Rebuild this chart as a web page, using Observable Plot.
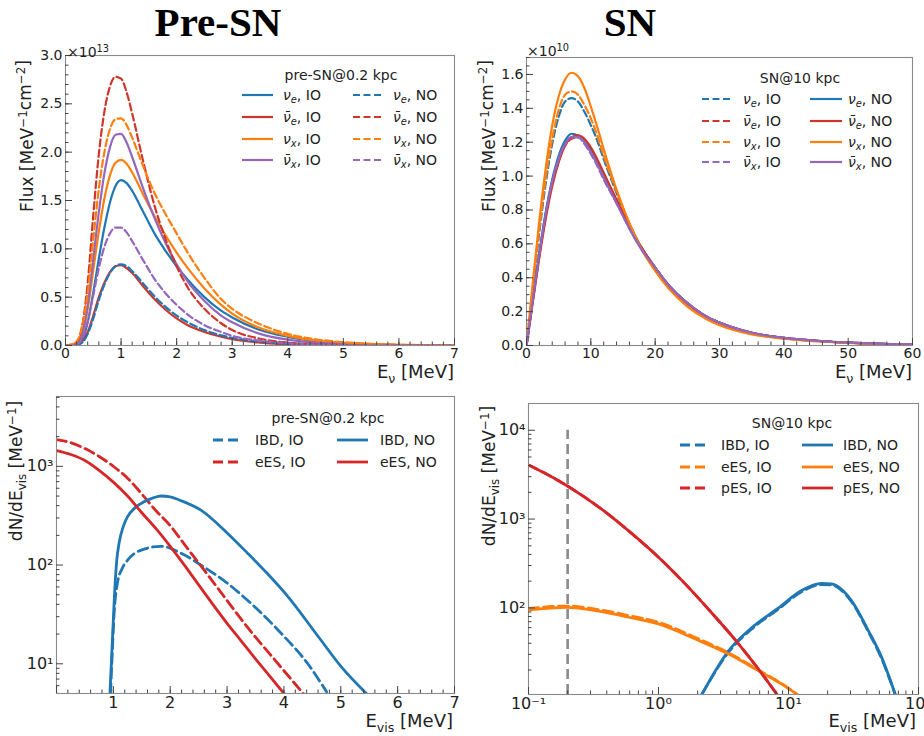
<!DOCTYPE html>
<html><head><meta charset="utf-8">
<script src="https://cdn.jsdelivr.net/npm/d3@7"></script>
<script src="https://cdn.jsdelivr.net/npm/@observablehq/plot@0.6"></script>
<style>
body{margin:0;background:#fff;}
#wrap{position:relative;width:924px;height:736px;overflow:hidden;background:#fff;font-family:"DejaVu Sans",sans-serif;}
#wrap svg{position:absolute;}
</style></head><body><div id="wrap"></div>
<script>
// ---------- Panel A: pre-SN flux (x10^13 MeV^-1 cm^-2) ----------
const preE = [0, 0.1, 0.2, 0.3, 0.4, 0.5, 0.6, 0.7, 0.8, 0.9, 1.0, 1.1, 1.2, 1.4, 1.6, 1.8, 2.0, 2.2, 2.5, 2.8, 3.0, 3.5, 4.0, 4.5, 5.0, 5.5, 6.0, 7.0];
const pre_nue_IO     = [0,0,0.01,0.06,0.24,0.55,0.90,1.22,1.48,1.65,1.71,1.68,1.60,1.38,1.16,0.98,0.82,0.68,0.50,0.36,0.29,0.16,0.09,0.045,0.022,0.011,0.005,0.001];
const pre_nuebar_IO  = [0,0,0.006,0.04,0.14,0.31,0.50,0.65,0.76,0.82,0.83,0.80,0.75,0.61,0.48,0.37,0.28,0.21,0.14,0.09,0.065,0.03,0.013,0.005,0.002,0.001,0,0];
const pre_nux_IO     = [0,0.01,0.03,0.12,0.38,0.78,1.18,1.52,1.76,1.89,1.92,1.88,1.79,1.56,1.34,1.14,0.96,0.80,0.59,0.42,0.33,0.18,0.10,0.05,0.027,0.014,0.006,0.001];
const pre_nuxbar_IO  = [0,0,0.02,0.12,0.42,0.90,1.38,1.78,2.05,2.18,2.19,2.10,1.95,1.62,1.32,1.06,0.84,0.66,0.46,0.31,0.24,0.12,0.06,0.03,0.015,0.007,0.003,0];
const pre_nue_NO     = [0,0,0.005,0.03,0.12,0.28,0.47,0.63,0.75,0.82,0.84,0.82,0.77,0.64,0.51,0.40,0.31,0.24,0.16,0.105,0.08,0.04,0.018,0.008,0.003,0.001,0.001,0];
const pre_nuebar_NO  = [0,0,0.03,0.20,0.65,1.35,1.98,2.42,2.68,2.78,2.76,2.62,2.40,1.90,1.45,1.10,0.82,0.60,0.38,0.23,0.16,0.07,0.03,0.012,0.005,0.002,0.001,0];
const pre_nux_NO     = [0,0.01,0.04,0.20,0.55,1.10,1.62,2.00,2.24,2.34,2.35,2.28,2.15,1.85,1.58,1.36,1.16,0.96,0.70,0.48,0.38,0.22,0.12,0.065,0.035,0.018,0.008,0.002];
const pre_nuxbar_NO  = [0,0,0.01,0.07,0.25,0.52,0.80,1.02,1.16,1.22,1.22,1.17,1.08,0.88,0.69,0.54,0.42,0.32,0.21,0.14,0.10,0.05,0.023,0.01,0.004,0.002,0.001,0];

// ---------- Panel B: SN flux (x10^10 MeV^-1 cm^-2) ----------
const snE = [0,1,2,3,4,5,6,7,8,9,10,11,12,14,16,18,20,22,25,28,30,35,40,45,50,55,60];
const sn_nue_IO    = [0,0.34,0.67,0.96,1.19,1.35,1.44,1.46,1.44,1.38,1.30,1.21,1.10,0.90,0.72,0.57,0.46,0.36,0.25,0.17,0.135,0.075,0.045,0.028,0.017,0.010,0.005];
const sn_nuebar_IO = [0,0.27,0.53,0.77,0.96,1.09,1.18,1.22,1.23,1.21,1.16,1.09,1.01,0.86,0.70,0.57,0.46,0.36,0.25,0.17,0.135,0.075,0.045,0.028,0.017,0.010,0.005];
const sn_nux_IO    = [0,0.35,0.69,0.99,1.22,1.39,1.48,1.50,1.48,1.42,1.34,1.24,1.12,0.91,0.72,0.57,0.46,0.35,0.24,0.165,0.13,0.07,0.042,0.026,0.016,0.009,0.005];
const sn_nuxbar_IO = [0,0.27,0.54,0.78,0.97,1.10,1.19,1.23,1.23,1.19,1.13,1.06,0.98,0.84,0.69,0.56,0.46,0.36,0.25,0.17,0.135,0.075,0.045,0.028,0.017,0.010,0.005];
const sn_nue_NO    = [0,0.28,0.55,0.79,0.98,1.12,1.21,1.25,1.24,1.21,1.15,1.08,1.00,0.85,0.70,0.57,0.46,0.36,0.25,0.17,0.135,0.075,0.045,0.028,0.017,0.010,0.005];
const sn_nuebar_NO = [0,0.26,0.52,0.75,0.94,1.08,1.18,1.23,1.24,1.22,1.17,1.10,1.02,0.86,0.70,0.57,0.46,0.36,0.25,0.17,0.135,0.075,0.045,0.028,0.017,0.010,0.005];
const sn_nux_NO    = [0,0.38,0.74,1.05,1.30,1.47,1.57,1.61,1.59,1.52,1.41,1.29,1.16,0.92,0.72,0.56,0.44,0.34,0.23,0.155,0.12,0.066,0.04,0.025,0.015,0.008,0.004];
const sn_nuxbar_NO = [0,0.27,0.54,0.78,0.97,1.10,1.19,1.23,1.23,1.20,1.14,1.07,0.99,0.84,0.69,0.56,0.46,0.36,0.25,0.17,0.135,0.075,0.045,0.028,0.017,0.010,0.005];

// ---------- Panel C: pre-SN event spectra (MeV^-1) ----------
const preIBD_NO_E = [0.94,0.98,1.02,1.06,1.10,1.18,1.25,1.40,1.54,1.70,1.84,2.00,2.20,2.54,3.01,3.36,3.70,4.07,4.60,5.01,5.45];
const preIBD_NO_N = [5.0,15.8,50,112,166,251,309,389,437,479,501,490,447,360,209,132,83,48,19,9.3,5.0];
const preIBD_IO_E = [0.95,0.98,1.01,1.07,1.15,1.25,1.48,1.84,2.19,2.54,3.01,3.48,3.95,4.42,4.75];
const preIBD_IO_N = [5.0,12.6,30,65,91,112,141,155,132,100,65,38,20.4,10,5.2];
const preES_NO_E  = [0,0.25,0.5,0.75,1.0,1.25,1.5,1.75,2.0,2.25,2.5,2.75,3.0,3.25,3.5,3.75,4.0];
const preES_NO_N  = [1445,1318,1148,912,692,501,339,234,155,100,63,40,25.7,17,11.2,7.5,5.0];
const preES_IO_E  = [0,0.25,0.5,0.75,1.0,1.25,1.5,1.75,2.0,2.25,2.5,2.75,3.0,3.25,3.5,3.75,4.0,4.34];
const preES_IO_N  = [1862,1738,1514,1259,1000,759,525,355,251,162,105,68,43.7,28.2,18.6,12.6,8.5,5.0];

// ---------- Panel D: SN event spectra (MeV^-1) ----------
const snIBD_E    = [2.16,3.47,5.25,8.38,12.6,18.0,21.4,30.6,41.1,52.0,66.1];
const snIBD_NO_N = [10.7,33.1,60.3,100,157,189,186,120,55.6,27.9,10.7];
const snIBD_IO_N = [10.7,32,58.5,97,152,183,181,117,54,27,10.7];
const snES_E     = [0.1,0.197,0.355,0.592,1.0,1.92,3.47,6.24,8.91,11.6];
const snES_NO_N  = [95,101.6,91.2,78.5,66,44.7,30.2,18.6,13.8,10.7];
const snES_IO_N  = [98.5,105,95,82,69,46.5,31.2,19.0,14.0,10.7];
const snPES_E    = [0.1,0.158,0.251,0.398,0.631,1.0,1.585,2.512,3.981,6.31,8.13];
const snPES_NO_N = [4074,2880,1900,1175,676,372,190,91,42,17.8,10.7];
const snPES_IO_N = [4074,2880,1900,1175,676,372,190,91,42,17.8,10.7];
const snThreshold = [0.2];
const snThresholdTop = 1e4;

// ---------- ticks ----------
const preFluxXTicks = [0,1,2,3,4,5,6,7];
const preFluxYTicks = [0,0.5,1.0,1.5,2.0,2.5,3.0];
const snFluxXTicks  = [0,10,20,30,40,50,60];
const snFluxYTicks  = [0,0.2,0.4,0.6,0.8,1.0,1.2,1.4,1.6];
const preRateXTicks = [1,2,3,4,5,6,7];
const preRateYTicks = [10,100,1000];
const snRateXTicks  = [0.1,1,10,100];
const snRateYTicks  = [100,1000,10000];

const C = {blue:"#1f77b4", red:"#d0352b", orange:"#ff7f0e", purple:"#9467bd", red2:"#d62728", gray:"#8a8a8a"};
const DASH_TOP = "7,3.5";
const DASH_BOT = "10,5";

const sup = s => String(s).replace(/-/g,"⁻").replace(/\d/g, d => "⁰¹²³⁴⁵⁶⁷⁸⁹"[+d]);
const logFmt = v => "10" + sup(Math.round(Math.log10(v)));
const logMinor = (lo, hi) => { const out=[]; for (let e=-2;e<=5;e++) for (let k=2;k<=9;k++){const v=k*10**e; if(v>lo&&v<hi) out.push(v);} return out; };
const rows = (xs, ys) => xs.map((x,i)=>({x, y: ys[i]}));

const wrap = document.getElementById("wrap");

function makePanel(cfg) {
  const {left, top, width, height, ml, mr, mt, mb, x, y, series, xMajor, xMinor, yMajor, yMinor, xLabels, yLabels, xFmt, yFmt, xFs=14, yFs=14, extra=[]} = cfg;
  const innerW = width - ml - mr, innerH = height - mt - mb;
  const marks = [
    ...extra,
    ...series.map(s => Plot.line(rows(s.x, s.y), {x:"x", y:"y", stroke:s.color, strokeWidth:s.w||2.2, strokeDasharray:s.dash||null, curve:"monotone-x", clip:true})),
    Plot.frame({stroke:"#8a8a8a", strokeWidth:1.1}),
    Plot.tickX(xMinor, {x:d=>d, insetTop: innerH-3.5, stroke:"#444"}),
    Plot.tickX(xMajor, {x:d=>d, insetTop: innerH-7, stroke:"#444"}),
    Plot.tickY(yMinor, {y:d=>d, insetRight: innerW-3.5, stroke:"#444"}),
    Plot.tickY(yMajor, {y:d=>d, insetRight: innerW-7, stroke:"#444"}),
    Plot.axisX(xLabels, {tickSize:0, tickPadding:3, tickFormat:xFmt, label:null, fontSize:xFs}),
    Plot.axisY(yLabels, {tickSize:0, tickPadding:3, tickFormat:yFmt, label:null, fontSize:yFs})
  ];
  const svg = Plot.plot({
    width, height, marginLeft:ml, marginRight:mr, marginTop:mt, marginBottom:mb,
    x, y,
    style:{fontFamily:"DejaVu Sans", fontSize:"14px", color:"#222", background:"transparent", overflow:"visible"},
    marks
  });
  svg.style.left = left + "px";
  svg.style.top = top + "px";
  wrap.appendChild(svg);
}

// Panel A
makePanel({
  left:0, top:40, width:462, height:350, ml:65, mr:8, mt:15, mb:45,
  x:{type:"linear", domain:[0,7]}, y:{type:"linear", domain:[0,3.0]},
  series:[
    {x:preE, y:pre_nue_IO, color:C.blue},
    {x:preE, y:pre_nuebar_IO, color:C.red},
    {x:preE, y:pre_nux_IO, color:C.orange},
    {x:preE, y:pre_nuxbar_IO, color:C.purple},
    {x:preE, y:pre_nue_NO, color:C.blue, dash:DASH_TOP},
    {x:preE, y:pre_nuebar_NO, color:C.red, dash:DASH_TOP},
    {x:preE, y:pre_nux_NO, color:C.orange, dash:DASH_TOP},
    {x:preE, y:pre_nuxbar_NO, color:C.purple, dash:DASH_TOP}
  ],
  xMajor:preFluxXTicks, xMinor:d3.range(0,7.001,0.2).map(v=>+v.toFixed(2)),
  yMajor:preFluxYTicks, yMinor:d3.range(0,3.001,0.1).map(v=>+v.toFixed(2)),
  xLabels:preFluxXTicks, yLabels:preFluxYTicks, xFmt:d3.format("d"), yFmt:d3.format(".1f")
});

// Panel B
makePanel({
  left:462, top:40, width:462, height:350, ml:64, mr:12, mt:17, mb:45,
  x:{type:"linear", domain:[0,60]}, y:{type:"linear", domain:[0,1.7]},
  series:[
    {x:snE, y:sn_nue_IO, color:C.blue, dash:DASH_TOP},
    {x:snE, y:sn_nuebar_IO, color:C.red, dash:DASH_TOP},
    {x:snE, y:sn_nux_IO, color:C.orange, dash:DASH_TOP},
    {x:snE, y:sn_nuxbar_IO, color:C.purple, dash:DASH_TOP},
    {x:snE, y:sn_nue_NO, color:C.blue},
    {x:snE, y:sn_nuebar_NO, color:C.red},
    {x:snE, y:sn_nux_NO, color:C.orange},
    {x:snE, y:sn_nuxbar_NO, color:C.purple}
  ],
  xMajor:snFluxXTicks, xMinor:d3.range(0,60.001,2),
  yMajor:snFluxYTicks, yMinor:d3.range(0,1.7001,0.05).map(v=>+v.toFixed(2)),
  xLabels:snFluxXTicks, yLabels:snFluxYTicks, xFmt:d3.format("d"), yFmt:d3.format(".1f")
});

// Panel C
makePanel({
  left:0, top:390, width:462, height:346, ml:56, mr:8, mt:6, mb:43,
  x:{type:"linear", domain:[0,7]}, y:{type:"log", domain:[5,5100]},
  series:[
    {x:preIBD_IO_E, y:preIBD_IO_N, color:C.blue, dash:DASH_BOT, w:2.8},
    {x:preES_IO_E, y:preES_IO_N, color:C.red2, dash:DASH_BOT, w:2.8},
    {x:preIBD_NO_E, y:preIBD_NO_N, color:C.blue, w:2.8},
    {x:preES_NO_E, y:preES_NO_N, color:C.red2, w:2.8}
  ],
  xMajor:[0,...preRateXTicks], xMinor:d3.range(0,7.001,0.2).map(v=>+v.toFixed(2)),
  yMajor:preRateYTicks, yMinor:logMinor(5,5100),
  xLabels:preRateXTicks, yLabels:preRateYTicks, xFmt:d3.format("d"), yFmt:logFmt, xFs:16, yFs:16
});

// Panel D
makePanel({
  left:462, top:390, width:462, height:346, ml:66, mr:6, mt:13, mb:42,
  x:{type:"log", domain:[0.1,100]}, y:{type:"log", domain:[10.6,20000]},
  extra:[Plot.ruleX(snThreshold, {x:d=>d, y1:10.6, y2:snThresholdTop, stroke:C.gray, strokeWidth:2.6, strokeDasharray:"10,5"})],
  series:[
    {x:snIBD_E, y:snIBD_IO_N, color:C.blue, dash:DASH_BOT, w:2.8},
    {x:snES_E, y:snES_IO_N, color:C.orange, dash:DASH_BOT, w:2.8},
    {x:snPES_E, y:snPES_IO_N, color:C.red2, dash:DASH_BOT, w:2.8},
    {x:snIBD_E, y:snIBD_NO_N, color:C.blue, w:2.8},
    {x:snES_E, y:snES_NO_N, color:C.orange, w:2.8},
    {x:snPES_E, y:snPES_NO_N, color:C.red2, w:2.8}
  ],
  xMajor:snRateXTicks, xMinor:logMinor(0.1,100),
  yMajor:snRateYTicks, yMinor:logMinor(10.6,20000),
  xLabels:snRateXTicks, yLabels:snRateYTicks, xFmt:logFmt, yFmt:logFmt, xFs:16, yFs:16
});

// ---------- overlay text ----------
const ov = d3.select(wrap).append("svg").attr("width",924).attr("height",736)
  .style("left","0px").style("top","0px").style("pointer-events","none")
  .attr("font-family","DejaVu Sans").attr("fill","#222");

ov.append("text").attr("x",218).attr("y",36).attr("text-anchor","middle")
  .attr("font-family","Liberation Serif").attr("font-weight","bold").attr("font-size",41).attr("fill","#000").text("Pre-SN");
ov.append("text").attr("x",630).attr("y",36).attr("text-anchor","middle")
  .attr("font-family","Liberation Serif").attr("font-weight","bold").attr("font-size",41).attr("fill","#000").text("SN");

function richText(sel, parts, size) {
  parts.forEach(p => {
    const t = sel.append("tspan").text(p.t);
    if (p.it) t.attr("font-style","italic");
    if (p.sub) t.attr("font-size", size*0.7).attr("dy", size*0.25);
    if (p.sup) t.attr("font-size", size*0.7).attr("dy", -size*0.38);
    if (p.back) t.attr("dy", p.back*size);
  });
}
function label(x, y, parts, size, opts={}) {
  const t = ov.append("text").attr("font-size", size);
  if (opts.rotate) t.attr("transform", `translate(${x},${y}) rotate(-90)`).attr("text-anchor","middle");
  else t.attr("x",x).attr("y",y).attr("text-anchor", opts.anchor||"start");
  richText(t, parts, size);
  return t;
}
// multiplier labels
label(67, 57, [{t:"×10"},{t:"13", sup:true}], 14);
label(527, 56, [{t:"×10"},{t:"10", sup:true}], 14);
// y labels
function fluxParts(){return [{t:"Flux [MeV"},{t:"−1",sup:true},{t:"cm",back:0.266},{t:"−2",sup:true},{t:"]",back:0.266}];}
label(33, 136, fluxParts(), 17, {rotate:true});
label(495, 136, fluxParts(), 17, {rotate:true});
function rateParts(){return [{t:"dN/dE"},{t:"vis",sub:true},{t:" [MeV",back:-0.25},{t:"−1",sup:true},{t:"]",back:0.266}];}
label(22, 471, rateParts(), 17, {rotate:true});
label(495, 476, rateParts(), 17, {rotate:true});
// x labels
label(454, 378, [{t:"E"},{t:"ν",sub:true},{t:" [MeV]",back:-0.25}], 18, {anchor:"end"});
label(912, 378, [{t:"E"},{t:"ν",sub:true},{t:" [MeV]",back:-0.25}], 18, {anchor:"end"});
label(453, 727, [{t:"E"},{t:"vis",sub:true},{t:" [MeV]",back:-0.25}], 18, {anchor:"end"});
label(916, 727, [{t:"E"},{t:"vis",sub:true},{t:" [MeV]",back:-0.25}], 18, {anchor:"end"});

// legends
function legend(title, tx, ty, rowsDef) {
  ov.append("text").attr("x",tx).attr("y",ty).attr("text-anchor","middle").attr("font-size",14).attr("dy","0.35em").text(title);
  rowsDef.forEach(r => {
    ov.append("line").attr("x1",r.x1).attr("x2",r.x2).attr("y1",r.y).attr("y2",r.y)
      .attr("stroke",r.color).attr("stroke-width",r.w||2.2).attr("stroke-dasharray",r.dash||null);
    const t = ov.append("text").attr("x",r.tx).attr("y",r.y).attr("dy","0.35em").attr("font-size",14);
    richText(t, r.parts, 14);
  });
}
const nuParts = (bar, flav, ord) => [{t: bar ? "ν\u0304" : "ν", it:true},{t:flav, it:true, sub:true},{t:", "+ord, back:-0.25}];
const flavs = [[false,"e",C.blue],[true,"e",C.red],[false,"x",C.orange],[true,"x",C.purple]];
const aRows = [], bRows = [];
const aY = [95,117,139,160], bY = [99,121,142,162];
flavs.forEach(([bar,f,c],i)=>{
  aRows.push({x1:242,x2:273,y:aY[i],color:c,tx:283,parts:nuParts(bar,f,"IO")});
  aRows.push({x1:353,x2:383,y:aY[i],color:c,dash:DASH_TOP,tx:393,parts:nuParts(bar,f,"NO")});
  bRows.push({x1:702,x2:732,y:bY[i],color:c,dash:DASH_TOP,tx:743,parts:nuParts(bar,f,"IO")});
  bRows.push({x1:810,x2:842,y:bY[i],color:c,tx:848,parts:nuParts(bar,f,"NO")});
});
legend("pre-SN@0.2 kpc", 341, 75, aRows);
legend("SN@10 kpc", 800, 78, bRows);
legend("pre-SN@0.2 kpc", 328, 418, [
  {x1:213,x2:240,y:440,color:C.blue,dash:DASH_BOT,w:2.8,tx:255,parts:[{t:"IBD, IO"}]},
  {x1:337,x2:368,y:440,color:C.blue,w:2.8,tx:380,parts:[{t:"IBD, NO"}]},
  {x1:213,x2:240,y:462,color:C.red2,dash:DASH_BOT,w:2.8,tx:255,parts:[{t:"eES, IO"}]},
  {x1:337,x2:368,y:462,color:C.red2,w:2.8,tx:380,parts:[{t:"eES, NO"}]}
]);
legend("SN@10 kpc", 792, 423, [
  {x1:680,x2:706,y:445,color:C.blue,dash:DASH_BOT,w:2.8,tx:721,parts:[{t:"IBD, IO"}]},
  {x1:802,x2:833,y:445,color:C.blue,w:2.8,tx:843,parts:[{t:"IBD, NO"}]},
  {x1:680,x2:706,y:467,color:C.orange,dash:DASH_BOT,w:2.8,tx:721,parts:[{t:"eES, IO"}]},
  {x1:802,x2:833,y:467,color:C.orange,w:2.8,tx:843,parts:[{t:"eES, NO"}]},
  {x1:680,x2:706,y:488,color:C.red2,dash:DASH_BOT,w:2.8,tx:721,parts:[{t:"pES, IO"}]},
  {x1:802,x2:833,y:488,color:C.red2,w:2.8,tx:843,parts:[{t:"pES, NO"}]}
]);
</script></body></html>
